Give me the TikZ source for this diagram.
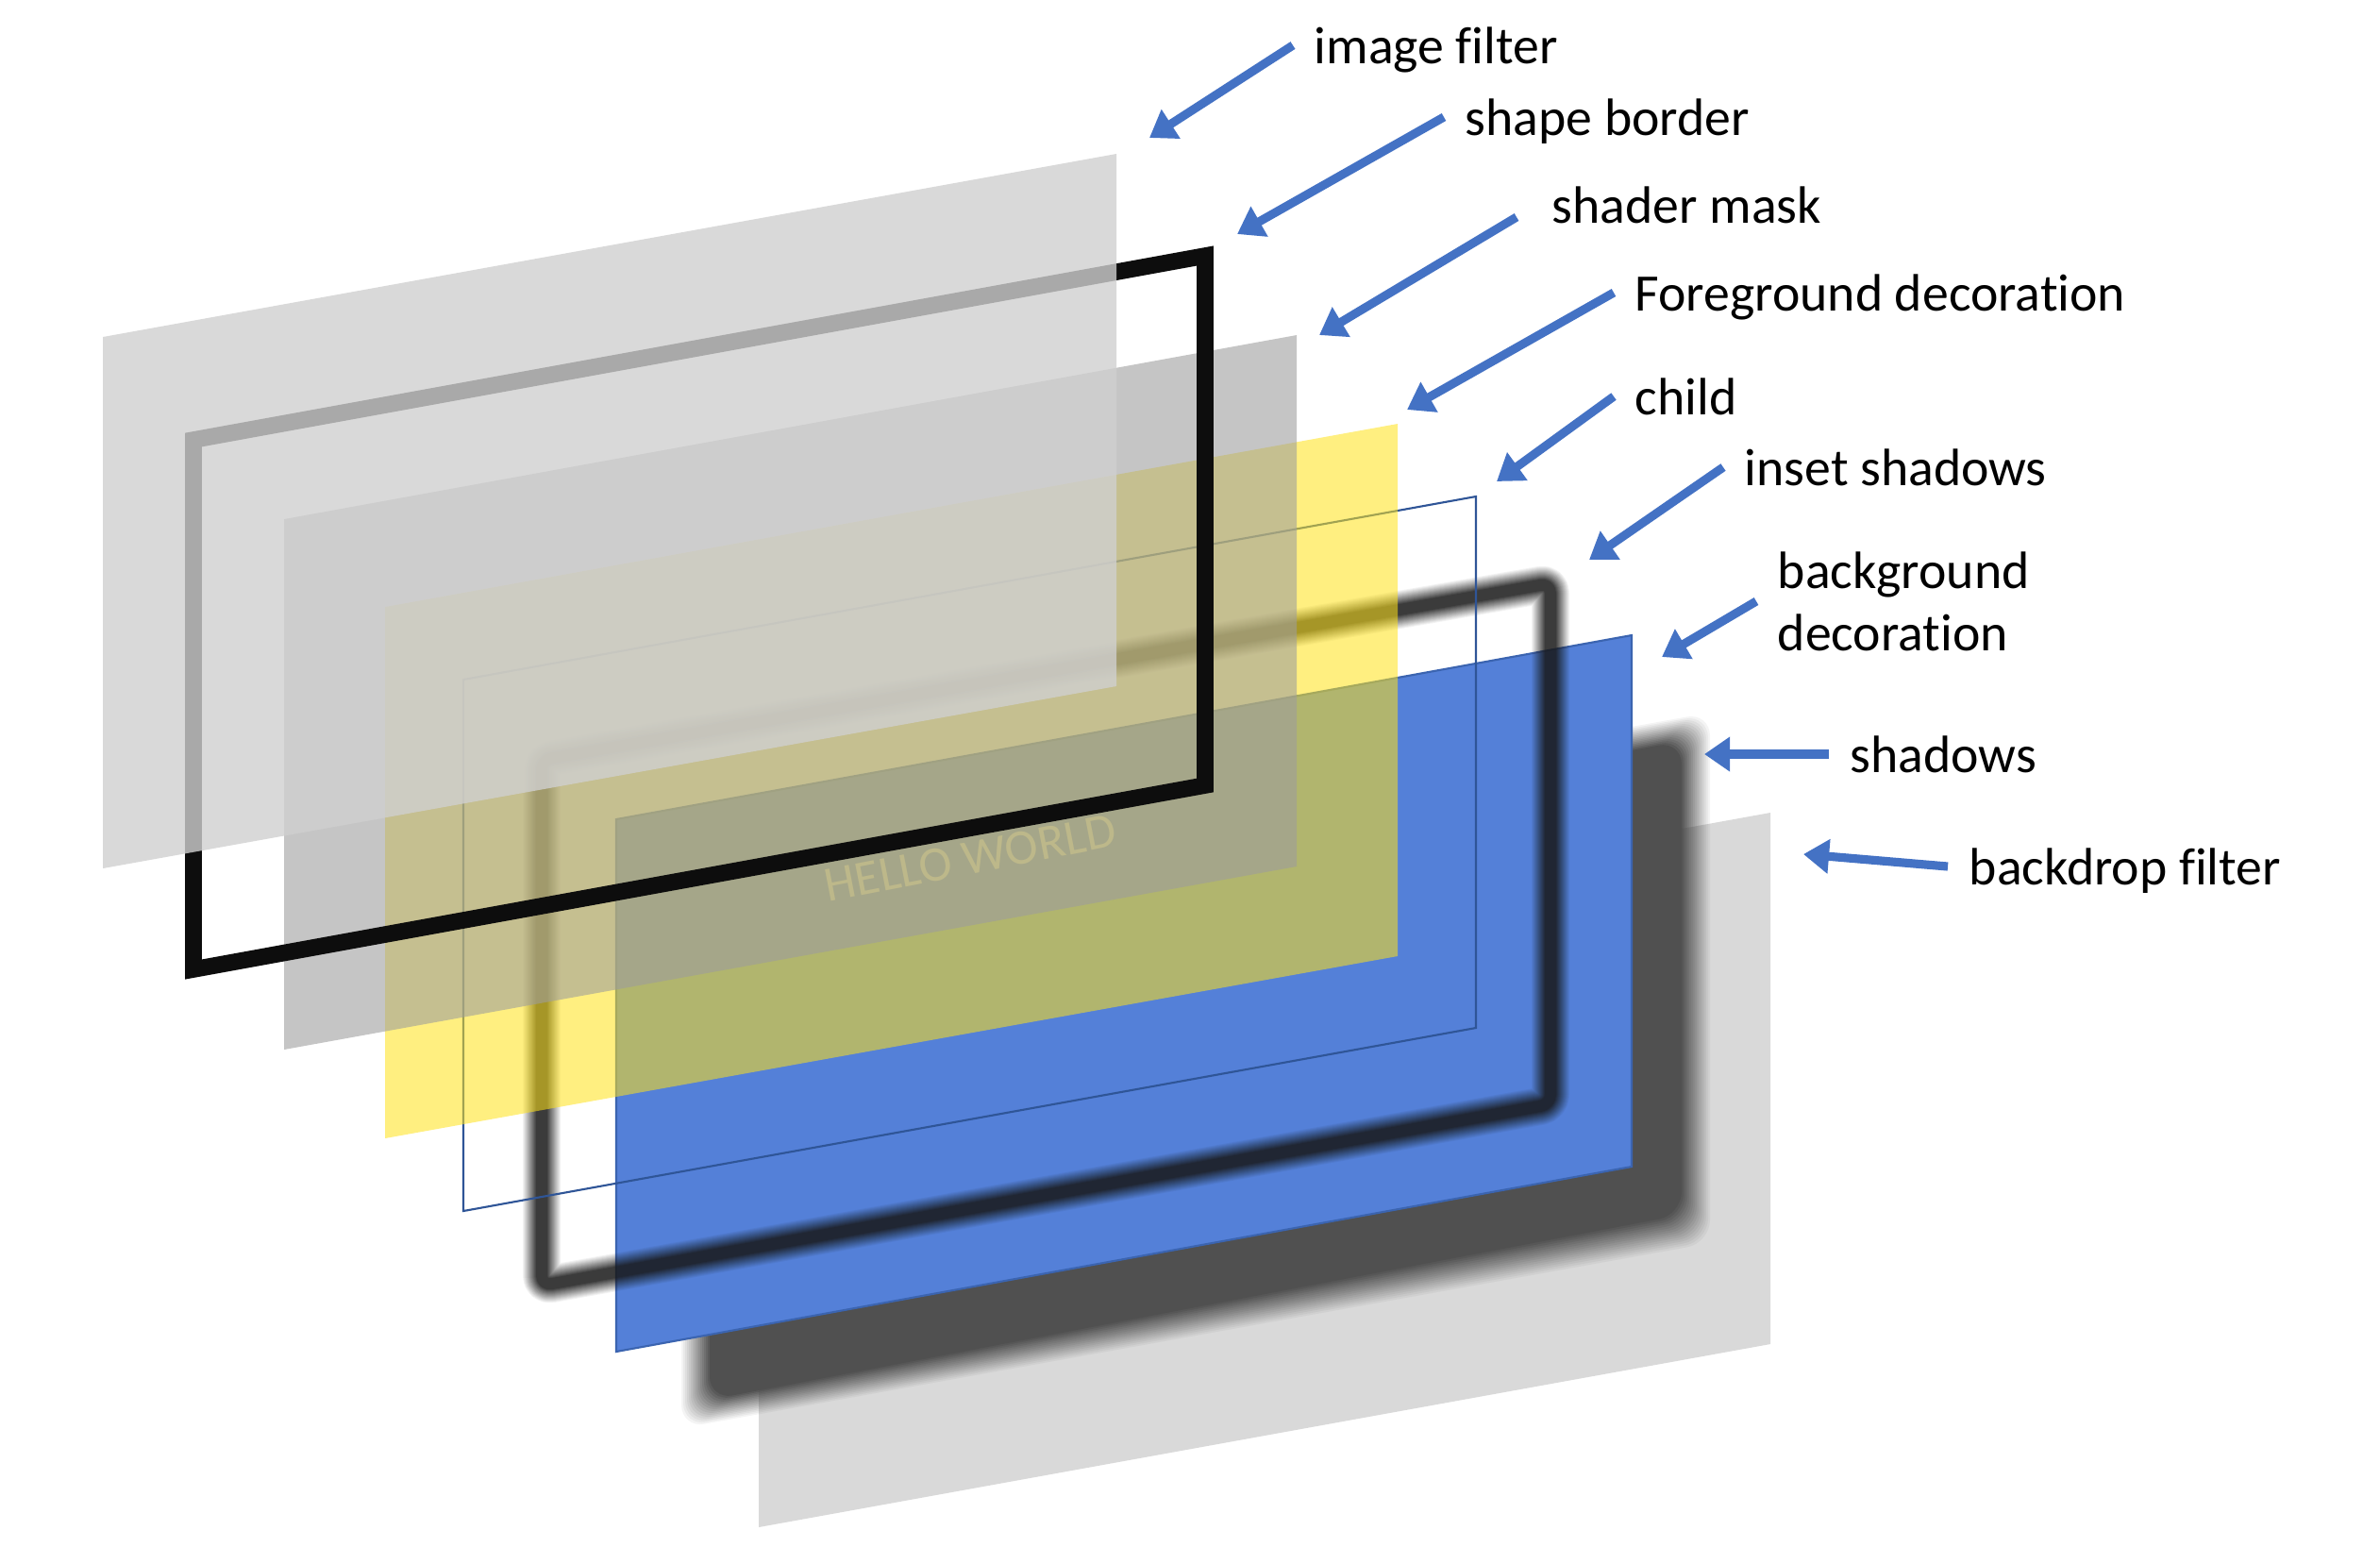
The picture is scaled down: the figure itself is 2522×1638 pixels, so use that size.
\documentclass[tikz,border=0pt]{standalone}
\usepackage{fontspec}
\usepackage{xcolor}
\setmainfont{Carlito}[Ligatures=NoCommon]
\usetikzlibrary{arrows.meta}
\definecolor{arrowblue}{HTML}{4472C4}
\definecolor{layerblue}{HTML}{5480D8}
\definecolor{edgeblue}{HTML}{3B64B0}
\definecolor{childblue}{HTML}{2F5597}
\definecolor{layergray}{HTML}{D9D9D9}
\definecolor{shadowgray}{HTML}{505050}
\definecolor{maskgray}{HTML}{9D9D9D}
\definecolor{filtergray}{HTML}{D0D0D0}
\definecolor{decoyellow}{RGB}{255,226,24}
\definecolor{hellotext}{HTML}{BDB88A}
\tikzset{
    lbl/.style={anchor=west, inner sep=6.26pt, align=left, text height=13pt, text depth=1.9pt, font=\fontsize{15.85}{18.8}\selectfont},
    pointer/.style={arrowblue, line width=2.6pt, -{Triangle[length=7.7pt, width=10pt]}}
}
\begin{document}
\begin{tikzpicture}[x=0.01cm, y=-0.01cm]
    \useasboundingbox (0, 0) rectangle (2522, 1638);

    % 背景滤镜层
    \fill[layergray] (804, 1055) -- (1876, 861) -- (1876, 1424) -- (804, 1618) -- cycle;

    % 模糊阴影
    \foreach \d [count=\n, evaluate=\n as \a using 1/(17-\n)] in {0, 2, ..., 30} {
        \fill[shadowgray, opacity=\a, rounded corners=7pt]
            (722+\d, 951+\d) -- (1812-\d, 755+\d) -- (1812-\d, 1317-\d) -- (722+\d, 1513-\d) -- cycle;
    }

    % 蓝色背景装饰
    \draw[fill=layerblue, draw=edgeblue, line width=0.6pt] (653, 868) -- (1729, 673) -- (1729, 1236) -- (653, 1432) -- cycle;

    % 内阴影
    \foreach \w [count=\n, evaluate=\n as \a using 0.85/(15-0.85*(\n-1))] in {40, 38, ..., 12} {
        \draw[black!90, opacity=\a, line width=\w*0.2845pt, line join=round, rounded corners=3pt]
            (574, 805) -- (1643, 618) -- (1643, 1170) -- (574, 1362) -- cycle;
    }

    % 子层
    \draw[childblue, line width=0.6pt] (491, 720) -- (1564, 526) -- (1564, 1089) -- (491, 1283) -- cycle;

    % 前景装饰
    \fill[decoyellow, opacity=0.55] (408, 643) -- (1481, 449) -- (1481, 1013) -- (408, 1206) -- cycle;

    % 遮罩
    \fill[maskgray, opacity=0.59] (301, 550) -- (1374, 355) -- (1374, 918) -- (301, 1112) -- cycle;
    \node[hellotext, rotate=11, inner sep=0pt, font=\fontsize{15}{18}\selectfont] (hello) at (1028, 909) {HELLO WORLD};

    % 边框
    \draw[black!95, line width=5pt, line join=miter] (205, 466) -- (1277, 271) -- (1277, 832) -- (205, 1027) -- cycle;

    % 图像滤镜
    \fill[filtergray, opacity=0.8] (109, 357) -- (1183, 163) -- (1183, 727) -- (109, 920) -- cycle;

    % 文字标注
    \node[lbl] (lblfilter) at (1370, 48) {image filter};
    \node[lbl] (lblborder) at (1530, 124) {shape border};
    \node[lbl] (lblmask) at (1622, 217) {shader mask};
    \node[lbl] (lblfore) at (1710, 310) {Foreground decoration};
    \node[lbl] (lblchild) at (1710, 420) {child};
    \node[lbl] (lblinset) at (1826, 495) {inset shadows};
    \node[lbl, text height=, text depth=] (lblback) at (1861, 637) {background\\decoration};
    \node[lbl] (lblshadow) at (1938, 799) {shadows};
    \node[lbl] (lbldrop) at (2064, 918) {backdrop filter};

    % 箭头终点
    \coordinate (tailmask) at (1607, 230);
    \coordinate (tipfilter) at (1218, 146);
    \coordinate (tipborder) at (1311, 248);
    \coordinate (tipmask) at (1398, 355);
    \coordinate (tipfore) at (1491, 434);
    \coordinate (tipchild) at (1586, 510);
    \coordinate (tipinset) at (1684, 593);
    \coordinate (tipback) at (1761, 696);
    \coordinate (tipshadow) at (1806, 799);
    \coordinate (tipdrop) at (1911, 905);

    % 箭头
    \draw[pointer] (lblfilter.west) -- (tipfilter);
    \draw[pointer] (lblborder.west) -- (tipborder);
    \draw[pointer] (tailmask) -- (tipmask);
    \draw[pointer] (lblfore.west) -- (tipfore);
    \draw[pointer] (lblchild.west) -- (tipchild);
    \draw[pointer] (lblinset.west) -- (tipinset);
    \draw[pointer] (lblback.west) -- (tipback);
    \draw[pointer] (lblshadow.west) -- (tipshadow);
    \draw[pointer] (lbldrop.west) -- (tipdrop);
\end{tikzpicture}
\end{document}
